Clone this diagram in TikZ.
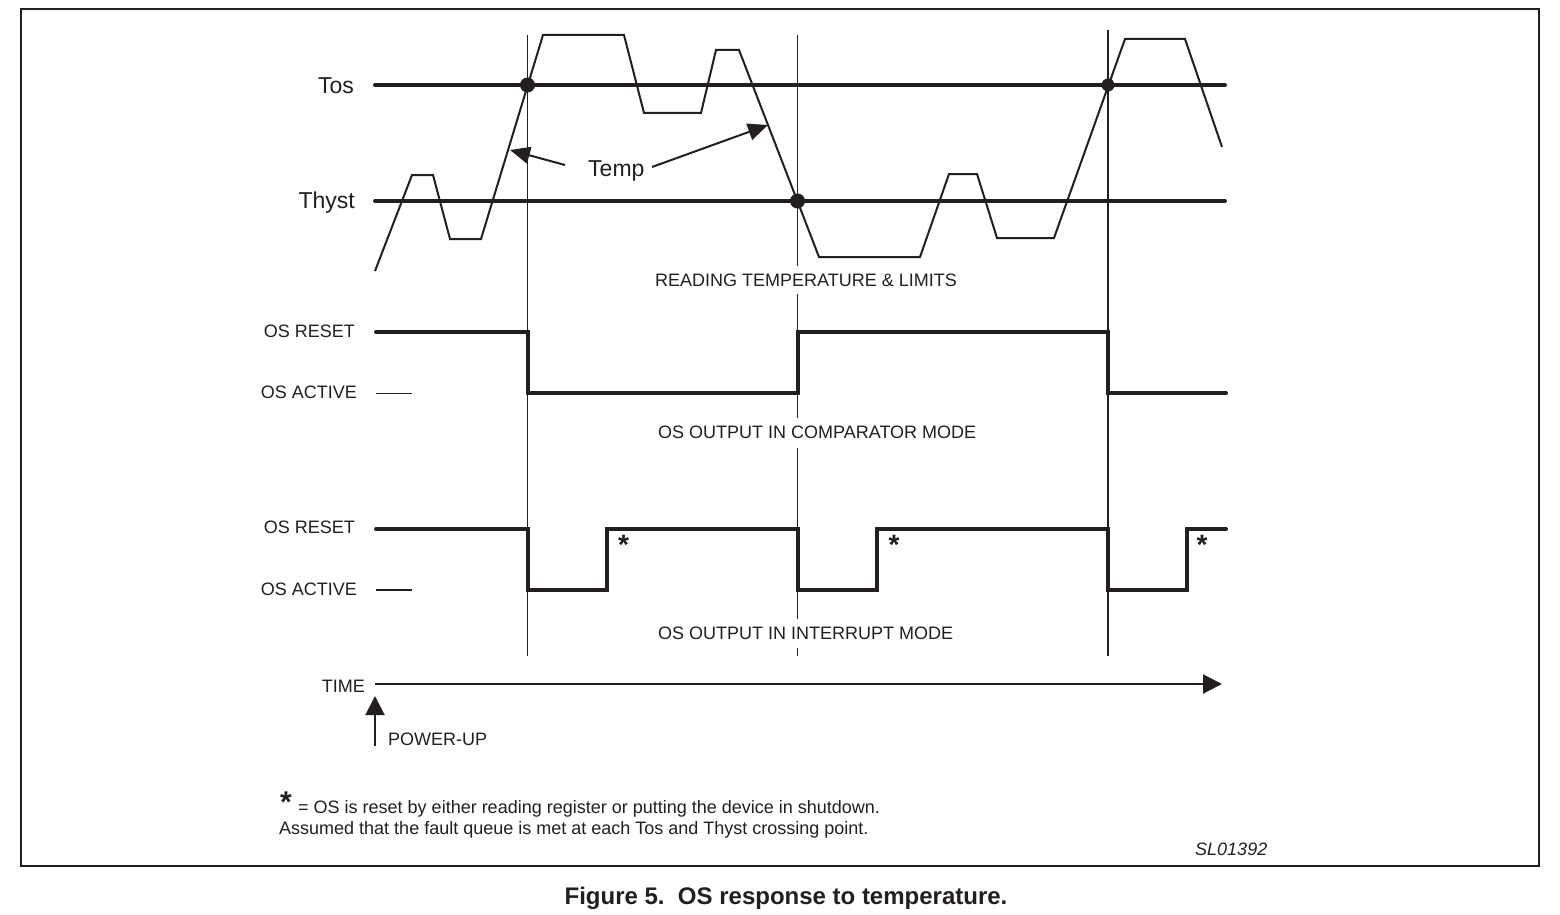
\documentclass[tikz,border=0pt]{standalone}
\usepackage{fontspec}
\setmainfont{Liberation Sans}
\usetikzlibrary{arrows.meta}
\definecolor{ink}{RGB}{35,31,32}
\begin{document}
\begin{tikzpicture}[x=1pt,y=-1pt,color=ink,
  frame/.style={line width=2.6pt},
  limit/.style={line width=4pt,line cap=round},
  tempw/.style={line width=2pt,line join=miter},
  guide/.style={line width=1.2pt},
  wave/.style={line width=4pt,line join=miter,line cap=round},
  tick/.style={line width=1.2pt},
  lbl/.style={font=\fontsize{18}{20}\selectfont,inner sep=0pt},
  big/.style={font=\fontsize{23}{26}\selectfont,inner sep=0pt},
  star/.style={font=\bfseries\fontsize{30}{32}\selectfont,inner sep=0pt},
  smallstar/.style={font=\bfseries\fontsize{28}{30}\selectfont,inner sep=0pt},
  ptr/.style={line width=2pt,-{Triangle[length=20pt,width=17pt]}},
  axis/.style={line width=2pt,-{Triangle[length=19pt,width=19pt]}},
  dot/.style={circle,fill=ink,draw=none,inner sep=0pt}
]
\useasboundingbox (0,0) rectangle (1560,915);
\fill[white] (0,0) rectangle (1560,915);
\draw[frame] (21,9) rectangle (1539,866);

% guide lines
\coordinate (gA) at (527.5,35);  \coordinate (gAb) at (527.5,656);
\coordinate (gC) at (1108,30);   \coordinate (gCb) at (1108,656);
\draw[guide] (gA) -- (gAb);
\draw[guide] (gC) -- (gCb);
\coordinate (gB1) at (797.5,35);  \coordinate (gB2) at (797.5,266);
\coordinate (gB3) at (797.5,294); \coordinate (gB4) at (797.5,418);
\coordinate (gB5) at (797.5,448); \coordinate (gB6) at (797.5,619);
\coordinate (gB7) at (797.5,648); \coordinate (gB8) at (797.5,656);
\draw[guide] (gB1) -- (gB2);
\draw[guide] (gB3) -- (gB4);
\draw[guide] (gB5) -- (gB6);
\draw[guide] (gB7) -- (gB8);

% limits
\coordinate (tosL) at (375,85);   \coordinate (tosR) at (1225,85);
\coordinate (hysL) at (375,201);  \coordinate (hysR) at (1225,201);
\draw[limit] (tosL) -- (tosR);
\draw[limit] (hysL) -- (hysR);
\node[big,anchor=base east] (tos) at (354,94) {Tos};
\node[big,anchor=base east] (thyst) at (355,208) {Thyst};

% temperature waveform
\draw[tempw] (375,271) -- (412,175) -- (433,175) -- (450,239) -- (481,239) -- (543,35)
  -- (624,35) -- (644,113) -- (701,113) -- (716,50) -- (739,50) -- (819,257)
  -- (920,257) -- (949,174) -- (977,174) -- (997,238) -- (1054,238) -- (1125,39)
  -- (1185,39) -- (1222,147);

\node[dot,minimum size=15pt] (x1) at (527.5,85) {};
\node[dot,minimum size=15pt] (x2) at (797.5,201) {};
\node[dot,minimum size=13pt] (x3) at (1108,85) {};

\node[big,anchor=base west] (temp) at (588,176) {Temp};
\coordinate (tL) at (565,165);  \coordinate (tipL) at (510,150);
\coordinate (tR) at (652,167);  \coordinate (tipR) at (768,125);
\draw[ptr] (tL) -- (tipL);
\draw[ptr] (tR) -- (tipR);

\node[lbl,anchor=base west] (rd) at (655,286) {READING TEMPERATURE \& LIMITS};

% comparator mode
\node[lbl,anchor=base east] (cr) at (355,337) {OS RESET};
\node[lbl,anchor=base east] (ca) at (357,398) {OS ACTIVE};
\coordinate (cd1) at (376,393.3); \coordinate (cd2) at (412,393.3);
\draw[tick] (cd1) -- (cd2);
\draw[wave] (376,332) -- (527.5,332) -- (527.5,393.3) -- (797.5,393.3) -- (797.5,332)
  -- (1108,332) -- (1108,393.3) -- (1226,393.3);
\node[lbl,anchor=base west] (cm) at (658,438) {OS OUTPUT IN COMPARATOR MODE};

% interrupt mode
\node[lbl,anchor=base east] (ir) at (355,533) {OS RESET};
\node[lbl,anchor=base east] (ia) at (357,595) {OS ACTIVE};
\coordinate (id1) at (376,590); \coordinate (id2) at (412,590);
\draw[tick] (id1) -- (id2);
\draw[wave] (376,529) -- (527.5,529) -- (527.5,590) -- (606.5,590) -- (606.5,529)
  -- (797.5,529) -- (797.5,590) -- (877,590) -- (877,529) -- (1108,529)
  -- (1108,590) -- (1187,590) -- (1187,529) -- (1226,529);
\node[smallstar,anchor=base] (s1) at (623.5,554) {*};
\node[smallstar,anchor=base] (s2) at (894,554) {*};
\node[smallstar,anchor=base] (s3) at (1202,554) {*};
\node[lbl,anchor=base west] (im) at (658,639) {OS OUTPUT IN INTERRUPT MODE};

% time axis
\node[lbl,anchor=base east] (time) at (365,692) {TIME};
\coordinate (ax0) at (375,684); \coordinate (ax1) at (1222,684);
\draw[axis] (ax0) -- (ax1);
\coordinate (pu0) at (375,746); \coordinate (pu1) at (375,696);
\draw[axis] (pu0) -- (pu1);
\node[lbl,anchor=base west] (pwr) at (388,745) {POWER-UP};

% footnote
\node[star,anchor=base] (fs) at (286,812) {*};
\node[lbl,anchor=base west,font=\fontsize{18}{20}\selectfont] (fn1) at (298,813) {= OS is reset by either reading register or putting the device in shutdown.};
\node[lbl,anchor=base west,font=\fontsize{18}{20}\selectfont] (fn2) at (279,834) {Assumed that the fault queue is met at each Tos and Thyst crossing point.};
\node[lbl,anchor=base west,font=\itshape\fontsize{18}{20}\selectfont] (sl) at (1195,855) {SL01392};

% caption
\node[lbl,anchor=base,font=\bfseries\fontsize{24}{26}\selectfont] (cap) at (786,904) {Figure 5.\ \ OS response to temperature.};
\end{tikzpicture}
\end{document}
